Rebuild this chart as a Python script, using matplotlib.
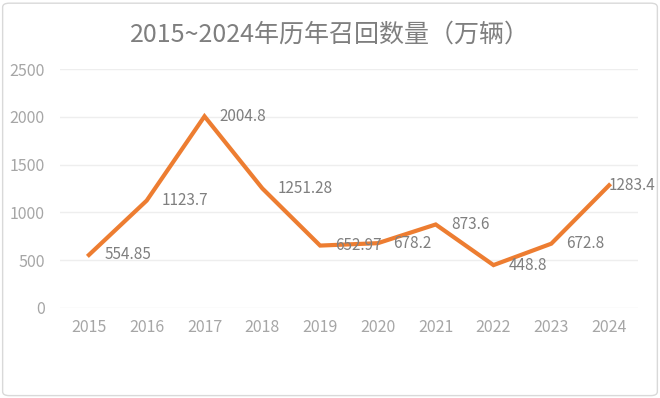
import matplotlib
matplotlib.use("Agg")
import matplotlib.pyplot as plt
from matplotlib.patches import FancyBboxPatch

plt.rcParams['font.family'] = ['Noto Sans CJK SC', 'DejaVu Sans']

years = ['2015', '2016', '2017', '2018', '2019', '2020', '2021', '2022', '2023', '2024']
values = [554.85, 1123.7, 2004.8, 1251.28, 652.97, 678.2, 873.6, 448.8, 672.8, 1283.4]
labels = ['554.85', '1123.7', '2004.8', '1251.28', '652.97', '678.2', '873.6', '448.8', '672.8', '1283.4']
yticks = [0, 500, 1000, 1500, 2000, 2500]
title = '2015~2024年历年召回数量（万辆）'

fig = plt.figure(figsize=(6.6, 3.98), dpi=100)
fig.patch.set_facecolor('white')
border = FancyBboxPatch((0.004, 0.006), 0.992, 0.986, boxstyle='round,pad=0,rounding_size=0.01',
                        transform=fig.transFigure, facecolor='none', edgecolor='#D9D9D9', linewidth=1)
fig.patches.append(border)

ax = fig.add_axes([60/660, 1-308/398, (638-60)/660, (308-69)/398])
x = list(range(len(years)))
ax.plot(x, values, color='#ED7D31', linewidth=3.0, solid_joinstyle='miter', zorder=3)
for i, (xi, v, lab) in enumerate(zip(x, values, labels)):
    dx = 0 if i == len(x) - 1 else 11
    ax.annotate(lab, (xi, v), xytext=(dx, 0), textcoords='offset points',
                ha='left', va='center', fontsize=11, color='#7F7F7F', zorder=4)

ax.set_xlim(-0.5, len(years) - 0.5)
ax.set_ylim(0, 2500)
ax.set_yticks(yticks)
ax.set_yticklabels([str(t) for t in yticks])
ax.set_xticks(x)
ax.set_xticklabels(years)
ax.tick_params(axis='both', length=0, colors='#A6A6A6', labelsize=11.5)
ax.tick_params(axis='y', pad=11)
ax.tick_params(axis='x', pad=8)
ax.grid(axis='y', color='#EEEEEE', linewidth=1)
ax.set_axisbelow(True)
for s in ax.spines.values():
    s.set_visible(False)

fig.text(0.5, 1-35/398, title, ha='center', va='center', fontsize=18, color='#7F7F7F')

fig.savefig('out.png', dpi=100)
